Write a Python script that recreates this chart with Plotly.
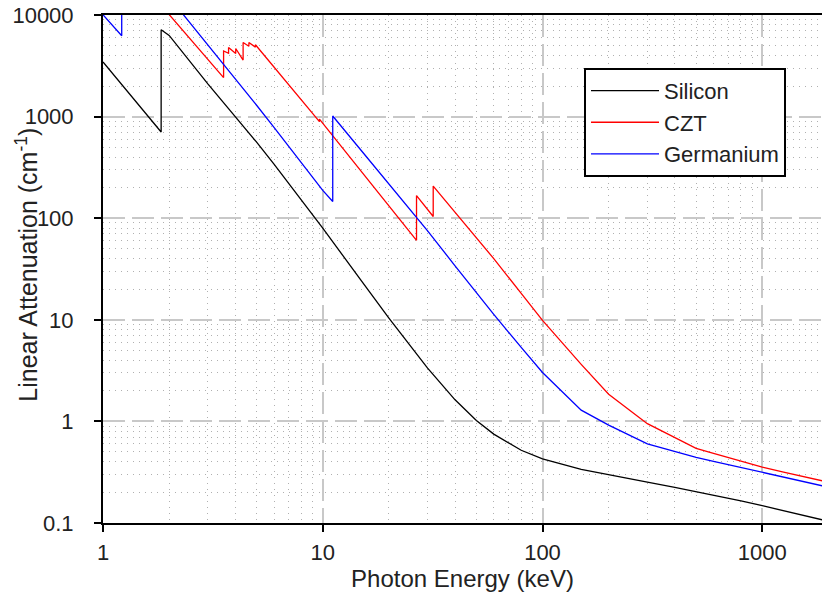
import math
import plotly.graph_objects as go

# ---- data ----
energy_si = [1.0, 1.5, 1.839, 1.839, 2.0, 3.0, 4.0, 5.0, 6.0, 8.0, 10, 15, 20, 30, 40, 50, 60, 80,
             100, 150, 200, 300, 400, 500, 600, 800, 1000, 1250, 1500, 2000]
atten_si = [3450, 1210, 706, 7150, 6300, 2100, 1000, 560, 340, 150, 80, 24.1, 10.4, 3.35, 1.63, 1.02,
            0.75, 0.52, 0.428, 0.337, 0.297, 0.252, 0.224, 0.204, 0.188, 0.165, 0.148, 0.1325, 0.121, 0.104]

energy_czt = [2.0, 3.0, 3.538, 3.538, 3.727, 3.727, 4.018, 4.018, 4.341, 4.341, 4.612, 4.612, 4.939, 4.939,
              6.0, 8.0, 9.659, 9.659, 10, 15, 20, 26.711, 26.711, 30, 31.814, 31.814, 40, 50, 60, 80,
              100, 150, 200, 300, 400, 500, 600, 800, 1000, 1250, 1500, 2000]
atten_czt = [10100, 3660, 2420, 4430, 4200, 4790, 4180, 4680, 3600, 5360, 4930, 5360, 4830, 5100,
             3076, 1456, 891, 945, 860, 288, 132, 60.6, 167, 122, 104, 207, 114.7, 64.2, 40.0, 18.2,
             9.86, 3.64, 1.85, 0.95, 0.693, 0.543, 0.485, 0.406, 0.354, 0.317, 0.290, 0.252]

energy_ge = [1.0, 1.2167, 1.2167, 1.5, 2.0, 3.0, 4.0, 5.0, 6.0, 8.0, 10.0, 11.103, 11.103, 15, 20, 30,
             40, 50, 60, 80, 100, 150, 200, 300, 400, 500, 600, 800, 1000, 1250, 1500, 2000]
atten_ge = [10050, 6250, 23000, 23000, 15000, 5130, 2373, 1293, 783, 352, 188, 146, 1014, 461, 217, 75,
            34, 18.5, 11.3, 5.35, 3.03, 1.29, 0.92, 0.60, 0.506, 0.443, 0.405, 0.352, 0.316, 0.283, 0.260, 0.225]

series_names = ["Silicon", "CZT", "Germanium"]
series_colors = ["#000000", "#ff0000", "#0000ff"]

x_tickvals = [1, 10, 100, 1000]
x_ticktext = ["1", "10", "100", "1000"]
y_tickvals = [0.1, 1, 10, 100, 1000, 10000]
y_ticktext = ["0.1", "1", "10", "100", "1000", "10000"]

x_title = "Photon Energy (keV)"
y_title = "Linear Attenuation (cm<sup>-1</sup>)"

x_minor = [k * 10 ** n for n in range(0, 4) for k in range(2, 10)]
y_minor = [k * 10.0 ** n for n in range(-1, 4) for k in range(2, 10)]

FONT = "Liberation Sans, Arial, sans-serif"
TXT = "#222222"

fig = go.Figure()
for name, color, xs, ys in zip(series_names, series_colors,
                               [energy_si, energy_czt, energy_ge],
                               [atten_si, atten_czt, atten_ge]):
    fig.add_trace(go.Scatter(x=xs, y=ys, mode="lines", name=name,
                             line=dict(color=color, width=1.3)))

axis_common = dict(
    type="log",
    ticks="outside", ticklen=7, tickwidth=2, tickcolor="black",
    showline=True, linecolor="black", linewidth=2,
    showgrid=True, gridcolor="#c8c8c8", gridwidth=2, griddash="22px,7px",
    tickfont=dict(family=FONT, size=22, color=TXT),
    zeroline=False,
)

fig.update_xaxes(
    **axis_common,
    range=[0, math.log10(1870)],
    tickmode="array", tickvals=x_tickvals, ticktext=x_ticktext,
    mirror=True, ticklabelstandoff=2,
    minor=dict(tickmode="array", tickvals=x_minor, showgrid=True, gridcolor="#b0b0b0",
               gridwidth=1, griddash="1px,5px", ticks=""),
    title=dict(text=x_title, standoff=4,
               font=dict(family=FONT, size=24, color=TXT)),
)
fig.update_yaxes(
    **axis_common,
    range=[-1, 4],
    tickmode="array", tickvals=y_tickvals, ticktext=y_ticktext,
    ticklabelstandoff=16,
    minor=dict(tickmode="array", tickvals=y_minor, showgrid=True, gridcolor="#b0b0b0",
               gridwidth=1, griddash="1px,5px", ticks=""),
)

# y-axis title placed as rotated text where the reference shows it
fig.add_annotation(text=y_title, textangle=-90, showarrow=False,
                   xref="paper", yref="paper", x=-0.106, y=0.508,
                   xanchor="center", yanchor="middle",
                   font=dict(family=FONT, size=25, color=TXT))

fig.update_layout(
    width=822, height=594,
    margin=dict(l=103, r=0, t=15, b=71, autoexpand=False),
    plot_bgcolor="white", paper_bgcolor="white",
    font=dict(family=FONT, size=22, color=TXT),
    showlegend=True,
    legend=dict(x=0.669, y=0.896, xanchor="left", yanchor="top",
                bgcolor="white", bordercolor="black", borderwidth=2,
                font=dict(family=FONT, size=22, color=TXT),
                itemwidth=68),
)

fig.write_html("out.html", config={"displayModeBar": False},
               post_script="document.body.style.margin='0';document.body.style.overflow='hidden';")
